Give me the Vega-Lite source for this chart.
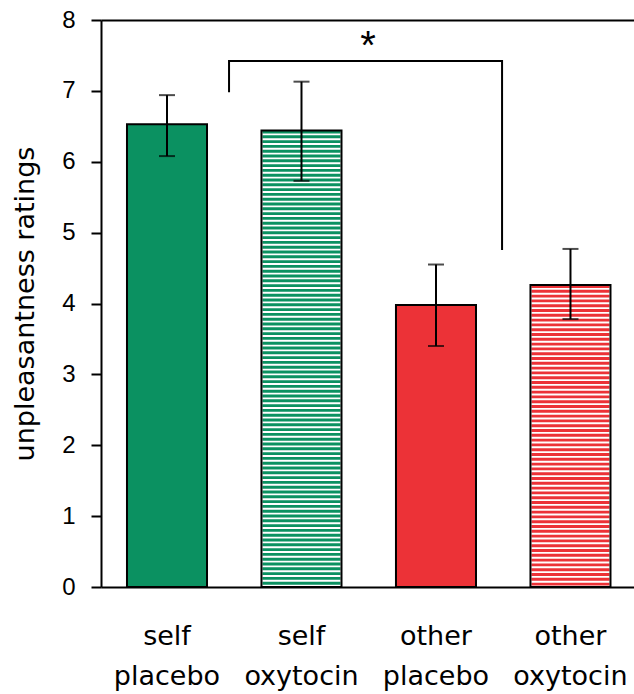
{
  "$schema": "https://vega.github.io/schema/vega-lite/v6.json",
  "width": 533,
  "height": 567,
  "autosize": {"type": "none"},
  "padding": {"left": 101, "top": 20, "right": 0, "bottom": 107},
  "background": "white",
  "config": {"view": {"stroke": null}, "font": "DejaVu Sans"},
  "datasets": {
    "bars": [
      {"cond": "self placebo", "group": "self", "drug": "placebo", "value": 6.53, "lo": 6.08, "hi": 6.94},
      {"cond": "self oxytocin", "group": "self", "drug": "oxytocin", "value": 6.44, "lo": 5.73, "hi": 7.13},
      {"cond": "other placebo", "group": "other", "drug": "placebo", "value": 3.98, "lo": 3.40, "hi": 4.55},
      {"cond": "other oxytocin", "group": "other", "drug": "oxytocin", "value": 4.26, "lo": 3.78, "hi": 4.77}
    ],
    "bracket": [
      {"k": 1.461, "v": 6.98, "o": 1},
      {"k": 1.461, "v": 7.42, "o": 2},
      {"k": 3.491, "v": 7.42, "o": 3},
      {"k": 3.491, "v": 4.755, "o": 4}
    ],
    "star": [
      {"k": 2.494, "v": 7.45, "t": "*"}
    ]
  },
  "layer": [
    {
      "data": {"name": "bars"},
      "encoding": {
        "x": {
          "field": "cond",
          "type": "nominal",
          "sort": ["self placebo", "self oxytocin", "other placebo", "other oxytocin"],
          "scale": {"paddingInner": 0.405, "paddingOuter": 0.184, "align": 0.525},
          "axis": {
            "title": null,
            "labelExpr": "split(datum.label, ' ')",
            "labelFont": "DejaVu Sans",
            "labelFontSize": 27,
            "labelColor": "black",
            "labelPadding": 36,
            "labelLineHeight": 40,
            "labelAngle": 0,
            "labelBaseline": "top",
            "ticks": false,
            "domain": true,
            "domainColor": "black",
            "domainWidth": 2,
            "grid": false
          }
        }
      },
      "layer": [
        {
          "mark": {"type": "bar", "strokeWidth": 0},
          "encoding": {
            "y": {
              "field": "value",
              "type": "quantitative",
              "scale": {"domain": [0, 8], "nice": false},
              "axis": {
                "title": "unpleasantness ratings",
                "titleFont": "DejaVu Sans",
                "titleFontSize": 27,
                "titleFontWeight": "normal",
                "titleColor": "black",
                "titlePadding": 22,
                "values": [0, 1, 2, 3, 4, 5, 6, 7, 8],
                "format": "d",
                "labelFont": "Liberation Sans",
                "labelFontSize": 24,
                "labelColor": "black",
                "labelPadding": 16,
                "tickSize": 10,
                "tickWidth": 2,
                "tickColor": "black",
                "domainColor": "black",
                "domainWidth": 2,
                "grid": false
              }
            },
            "fill": {
              "condition": {"test": "datum.drug === 'oxytocin'", "value": "white"},
              "field": "group",
              "type": "nominal",
              "scale": {"domain": ["self", "other"], "range": ["#0b9161", "#ec3237"]},
              "legend": null
            }
          }
        },
        {
          "transform": [{"filter": "datum.drug === 'oxytocin'"}],
          "mark": {"type": "rule", "strokeWidth": 78, "strokeDash": [2.9, 1.9], "strokeCap": "butt"},
          "encoding": {
            "y": {"field": "value", "type": "quantitative"},
            "y2": {"datum": 0},
            "color": {
              "field": "group",
              "type": "nominal",
              "scale": {"domain": ["self", "other"], "range": ["#0b9161", "#ec3237"]},
              "legend": null
            }
          }
        },
        {
          "mark": {"type": "bar", "fillOpacity": 0, "stroke": "black", "strokeWidth": 2},
          "encoding": {
            "y": {"field": "value", "type": "quantitative"}
          }
        },
        {
          "mark": {"type": "rule", "strokeWidth": 2, "color": "black"},
          "encoding": {
            "y": {"field": "lo", "type": "quantitative"},
            "y2": {"field": "hi"}
          }
        },
        {
          "mark": {"type": "tick", "orient": "horizontal", "size": 16, "thickness": 2, "color": "black"},
          "encoding": {
            "y": {"field": "lo", "type": "quantitative"}
          }
        },
        {
          "mark": {"type": "tick", "orient": "horizontal", "size": 16, "thickness": 2, "color": "black"},
          "encoding": {
            "y": {"field": "hi", "type": "quantitative"}
          }
        }
      ]
    },
    {
      "layer": [
        {
          "data": {"name": "bracket"},
          "mark": {"type": "line", "color": "black", "strokeWidth": 2, "strokeJoin": "miter"},
          "encoding": {
            "x": {
              "field": "k",
              "type": "quantitative",
              "scale": {"domain": [0.509, 4.472], "nice": false, "zero": false},
              "axis": {
                "orient": "top",
                "labels": false,
                "ticks": false,
                "title": null,
                "grid": false,
                "domainColor": "black",
                "domainWidth": 2
              }
            },
            "y": {"field": "v", "type": "quantitative"},
            "order": {"field": "o", "type": "quantitative"}
          }
        },
        {
          "data": {"name": "star"},
          "mark": {"type": "text", "font": "Liberation Sans", "fontSize": 40, "baseline": "alphabetic", "align": "center", "color": "black"},
          "encoding": {
            "x": {"field": "k", "type": "quantitative"},
            "y": {"field": "v", "type": "quantitative"},
            "text": {"field": "t"}
          }
        }
      ]
    }
  ],
  "resolve": {"scale": {"x": "independent"}, "axis": {"x": "independent"}}
}
